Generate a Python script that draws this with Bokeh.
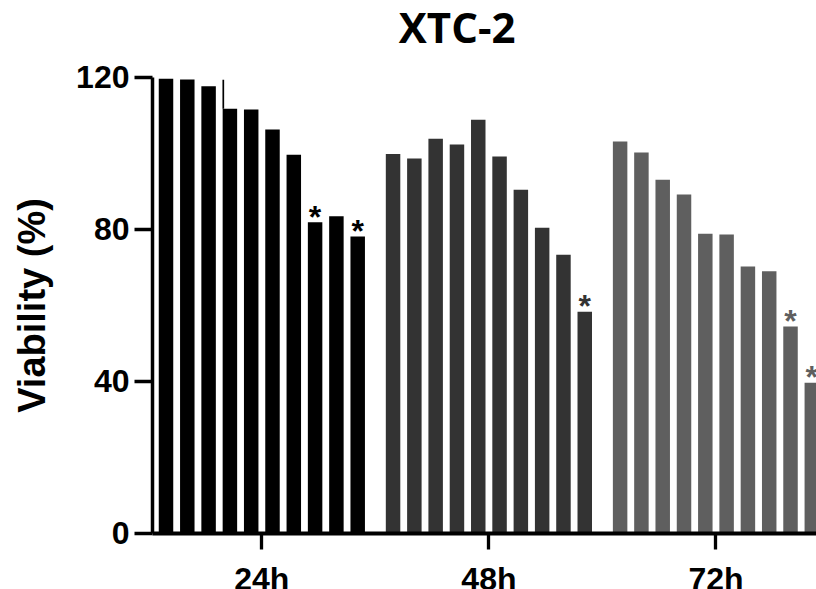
from bokeh.plotting import figure
from bokeh.models import ColumnDataSource, FixedTicker, Label
from bokeh.core.properties import value
from bokeh.embed import file_html
from bokeh.resources import INLINE

# Cell viability (%) of XTC-2 cells, ten treatment conditions per time point
groups = ["24h", "48h", "72h"]
viability_24h = [119.6, 119.4, 117.6, 111.7, 111.5, 106.2, 99.6, 81.8, 83.4, 78.1]
viability_48h = [99.8, 98.6, 103.8, 102.3, 108.8, 99.1, 90.4, 80.4, 73.3, 58.3]
viability_72h = [103.1, 100.2, 93.0, 89.1, 78.8, 78.6, 70.2, 68.9, 54.4, 39.6]
# significance markers (*) per bar
signif_24h = [0, 0, 0, 0, 0, 0, 0, 1, 0, 1]
signif_48h = [0, 0, 0, 0, 0, 0, 0, 0, 0, 1]
signif_72h = [0, 0, 0, 0, 0, 0, 0, 0, 1, 1]
# upper error whiskers (only one is visible above its bar)
err_up_24h = [0, 0, 0, 7.6, 0, 0, 0, 0, 0, 0]
y_ticks = [0, 40, 80, 120]

series = [viability_24h, viability_48h, viability_72h]
signif = [signif_24h, signif_48h, signif_72h]
errors = [err_up_24h, None, None]
colors = ["#000000", "#333333", "#5f5f5f"]

GROUP_STEP = 10.66   # distance between group starts, in bar slots
BAR_W = 0.68
AXIS_X = -0.634      # where the value axis crosses the category axis
FONT = "Liberation Sans"
PX_PER_UNIT = 3.8    # vertical pixels per % on this canvas

# The frame spans the whole canvas; the axes are pinned inside it
p = figure(width=816, height=589, title=None,
           x_range=(-7.770, 30.54), y_range=(-14.82, 140.18),
           output_backend="svg", toolbar_location=None,
           min_border_left=0, min_border_right=0,
           min_border_top=0, min_border_bottom=0)
p.outline_line_color = None
p.xgrid.visible = False
p.ygrid.visible = False
p.background_fill_color = "white"
p.border_fill_color = "white"

group_centers = []
for g, (vals, sig, err, col) in enumerate(zip(series, signif, errors, colors)):
    xs = [g * GROUP_STEP + i for i in range(len(vals))]
    group_centers.append(g * GROUP_STEP + (len(vals) - 1) / 2)
    src = ColumnDataSource(dict(x=xs, top=vals))
    p.vbar(x="x", top="top", width=BAR_W, bottom=0, source=src,
           fill_color=col, line_color=None)

    # asterisks sit a few pixels above the bar they mark
    sx = [x for x, s in zip(xs, sig) if s]
    sy = [v + 5.5 / PX_PER_UNIT for v, s in zip(vals, sig) if s]
    star_src = ColumnDataSource(dict(x=sx, y=sy, t=["*"] * len(sx)))
    p.text(x="x", y="y", text="t", source=star_src, text_color=col,
           text_font=value(FONT), text_font_size="32px", text_font_style="bold",
           text_align="center", text_baseline="alphabetic")

    if err is not None:
        ex = [x - BAR_W / 2 + 0.03 for x, e in zip(xs, err) if e > 0]
        ey0 = [v for v, e in zip(vals, err) if e > 0]
        ey1 = [v + e for v, e in zip(vals, err) if e > 0]
        p.segment(x0=ex, y0=ey0, x1=ex, y1=ey1, line_color=col, line_width=1.7)

# y axis
yax = p.yaxis[0]
yax.fixed_location = AXIS_X
yax.bounds = (y_ticks[0], y_ticks[-1])
yax.ticker = FixedTicker(ticks=y_ticks)
yax.minor_tick_line_color = None
yax.major_tick_out = 18
yax.major_tick_in = 0
yax.major_tick_line_width = 3.3
yax.axis_line_width = 3.5
yax.major_label_text_font = FONT
yax.major_label_text_font_style = "bold"
yax.major_label_text_font_size = "32px"
yax.major_label_text_color = "black"
yax.major_label_standoff = 5
yax.axis_label = "Viability (%)"
yax.axis_label_text_font = FONT
yax.axis_label_text_font_style = "bold"
yax.axis_label_text_font_size = "38px"
yax.axis_label_text_color = "black"
yax.axis_label_standoff = 20

# x axis: one tick per time point, at the group centre
xax = p.xaxis[0]
xax.fixed_location = 0
xax.bounds = (AXIS_X, 30.54)
xax.ticker = FixedTicker(ticks=group_centers)
xax.major_label_overrides = {c: name for c, name in zip(group_centers, groups)}
xax.minor_tick_line_color = None
xax.major_tick_out = 16
xax.major_tick_in = 0
xax.major_tick_line_width = 3.3
xax.axis_line_width = 4
xax.major_label_text_font = FONT
xax.major_label_text_font_style = "bold"
xax.major_label_text_font_size = "32px"
xax.major_label_text_color = "black"
xax.major_label_standoff = 12

p.add_layout(Label(x=13.67, y=133.3, text="XTC-2", x_units="data", y_units="data",
                   text_font="Open Sans", text_font_style="bold", text_font_size="42px",
                   text_color="black", text_align="center", text_baseline="alphabetic"))

open("out.html", "w").write(file_html(p, INLINE))
